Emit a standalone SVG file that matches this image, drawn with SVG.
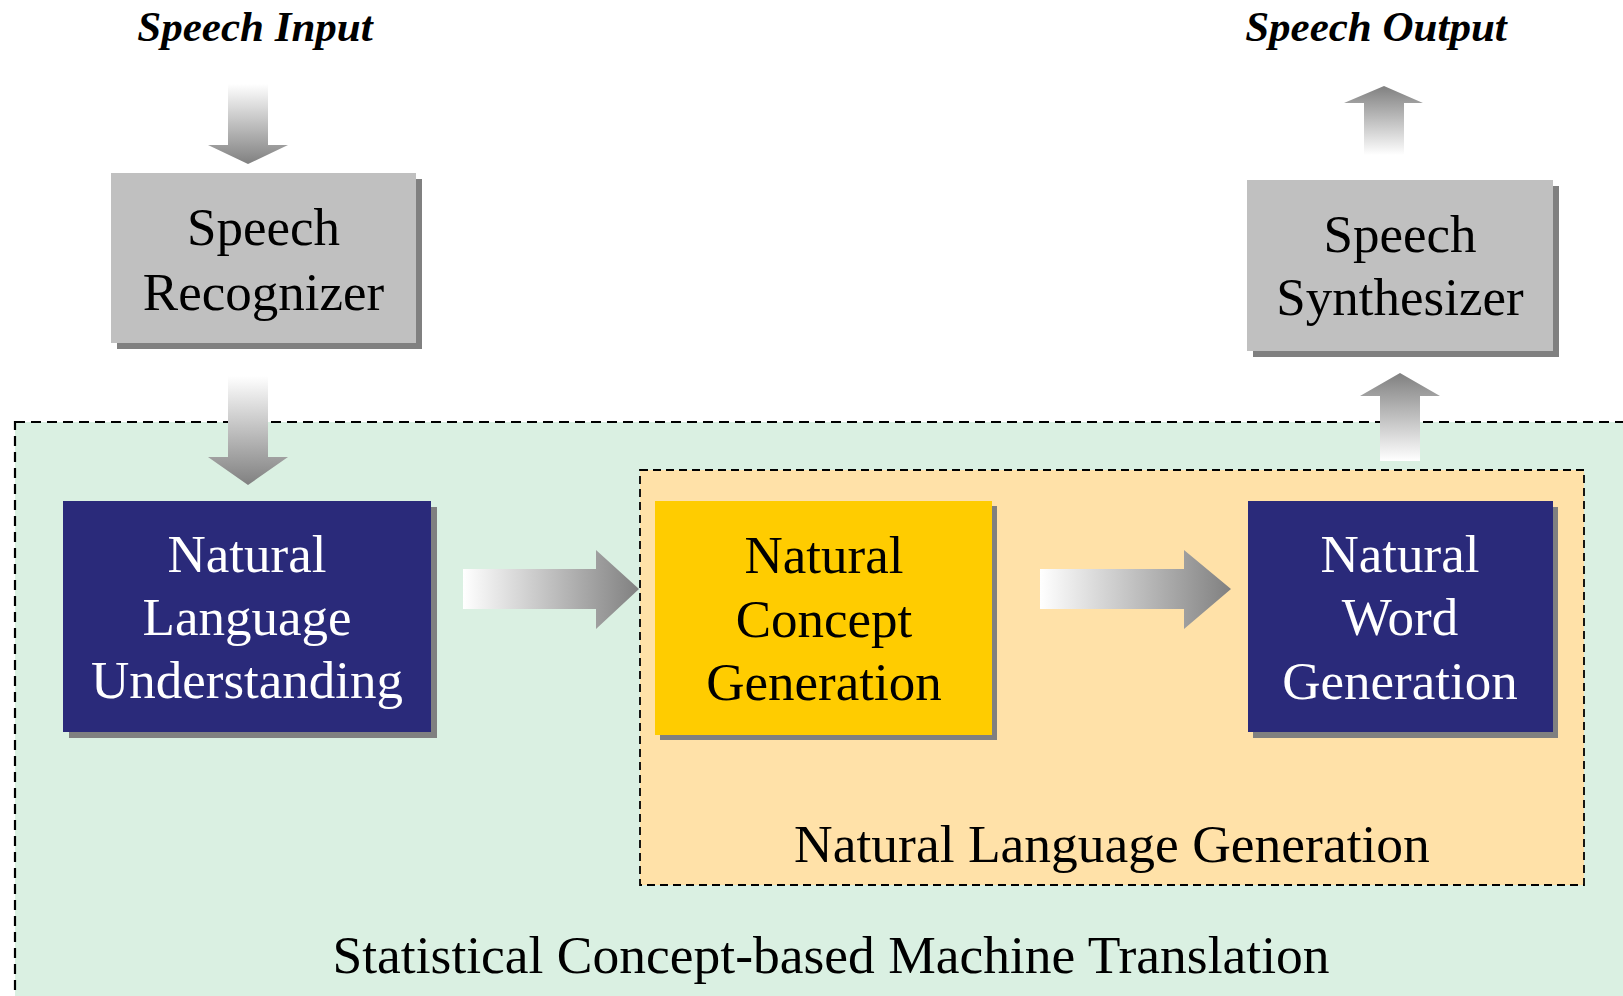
<svg xmlns="http://www.w3.org/2000/svg" width="1623" height="996" viewBox="0 0 1623 996">
<defs>
<linearGradient id="gDown" x1="0" y1="0" x2="0" y2="1"><stop offset="0" stop-color="#ffffff"/><stop offset="1" stop-color="#808080"/></linearGradient>
<linearGradient id="gUp" x1="0" y1="1" x2="0" y2="0"><stop offset="0" stop-color="#ffffff"/><stop offset="1" stop-color="#808080"/></linearGradient>
<linearGradient id="gRight" x1="0" y1="0" x2="1" y2="0"><stop offset="0" stop-color="#ffffff"/><stop offset="1" stop-color="#808080"/></linearGradient>
<style>
.lbl{font-family:"Liberation Serif","Times New Roman",serif;font-size:53px;text-anchor:middle}
.big{font-family:"Liberation Serif","Times New Roman",serif;font-size:53.5px;text-anchor:middle;fill:#000}
.io{font-family:"Liberation Serif","Times New Roman",serif;font-size:43px;font-weight:bold;font-style:italic;text-anchor:middle;fill:#000}
.shadow{fill:#808080}
.gray{fill:#c0c0c0}
.navy{fill:#2a2a7a}
.yellow{fill:#ffcc00}
.dark{fill:#000}
.light{fill:#fff}
</style>
</defs>
<rect width="1623" height="996" fill="#ffffff"/>

<g id="smt-group">
<rect x="15" y="422" width="1640" height="620" fill="#daf0e2" stroke="#000" stroke-width="2.2" stroke-dasharray="10 6"/>
<text class="big" x="831" y="973">Statistical Concept-based Machine Translation</text>
</g>

<g id="nlg-group">
<rect x="640" y="470" width="944" height="415" fill="#ffe1a8" stroke="#000" stroke-width="1.8" stroke-dasharray="8 5"/>
<text class="big" x="1112" y="862">Natural Language Generation</text>
</g>

<g id="io-labels">
<text class="io" x="255" y="41">Speech Input</text>
<text class="io" x="1376" y="41">Speech Output</text>
</g>

<g id="speech-recognizer">
<rect class="shadow" x="117" y="179" width="305" height="170"/>
<rect class="gray" x="111" y="173" width="305" height="170"/>
<text class="lbl dark" x="263.5" y="245">Speech</text>
<text class="lbl dark" x="263.5" y="310">Recognizer</text>
</g>

<g id="speech-synthesizer">
<rect class="shadow" x="1253" y="186" width="306" height="171"/>
<rect class="gray" x="1247" y="180" width="306" height="171"/>
<text class="lbl dark" x="1400" y="252">Speech</text>
<text class="lbl dark" x="1400" y="315">Synthesizer</text>
</g>

<g id="nlu">
<rect class="shadow" x="69" y="507" width="368" height="231"/>
<rect class="navy" x="63" y="501" width="368" height="231"/>
<text class="lbl light" x="247" y="572">Natural</text>
<text class="lbl light" x="247" y="635">Language</text>
<text class="lbl light" x="247" y="698">Understanding</text>
</g>

<g id="ncg">
<rect class="shadow" x="660" y="506" width="337" height="234"/>
<rect class="yellow" x="655" y="501" width="337" height="234"/>
<text class="lbl dark" x="824" y="573">Natural</text>
<text class="lbl dark" x="824" y="637">Concept</text>
<text class="lbl dark" x="824" y="700">Generation</text>
</g>

<g id="nwg">
<rect class="shadow" x="1253" y="507" width="305" height="231"/>
<rect class="navy" x="1248" y="501" width="305" height="231"/>
<text class="lbl light" x="1400" y="572">Natural</text>
<text class="lbl light" x="1400" y="635">Word</text>
<text class="lbl light" x="1400" y="699">Generation</text>
</g>

<g id="connectors">
<polygon fill="url(#gDown)" points="228,84 268,84 268,145 288,145 248,164 208,145 228,145"/>
<polygon fill="url(#gDown)" points="228,376 268,376 268,457 288,457 248,485 208,457 228,457"/>
<polygon fill="url(#gUp)" points="1364,155 1404,155 1404,103 1423,103 1384,86 1344,103 1364,103"/>
<polygon fill="url(#gUp)" points="1380,461 1420,461 1420,396 1440,396 1400,373 1360,396 1380,396"/>
<polygon fill="url(#gRight)" points="463,569 596,569 596,550 639,589 596,629 596,609 463,609"/>
<polygon fill="url(#gRight)" points="1040,569 1184,569 1184,550 1231,589 1184,629 1184,609 1040,609"/>
</g>
</svg>
